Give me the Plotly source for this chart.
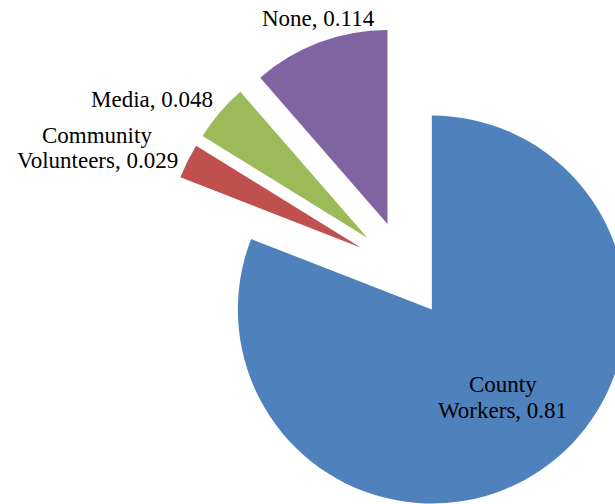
import plotly.graph_objects as go

# ---- data ----
labels = ["County Workers", "Community Volunteers", "Media", "None"]
values = [0.81, 0.029, 0.048, 0.114]
label_lines = [["County", "Workers, 0.81"],
               ["Community", "Volunteers, 0.029"],
               ["Media, 0.048"],
               ["None, 0.114"]]
colors = ["#4F81BD", "#C0504D", "#9BBB59", "#8064A2"]

# ---- layout geometry (pixels) ----
W, H = 647, 512
ML, MT = 162, 27
PW, PH = W - ML, H - MT

def px2paper(x, y):
    return (x - ML) / PW, 1 - (y - MT) / PH

# label line centres (pixel positions in the page)
label_pos = [[(503, 384), (502, 410)],
             [(97, 135), (97, 160)],
             [(152, 99)],
             [(318, 18)]]

fig = go.Figure(go.Pie(
    labels=labels,
    values=values,
    sort=False,
    direction="clockwise",
    rotation=0,
    pull=[0.25, 0.25, 0.25, 0.25],
    marker=dict(colors=colors, line=dict(width=0)),
    textinfo="none",
    hoverinfo="label+value",
    showlegend=False,
))

annotations = []
for lines, poss in zip(label_lines, label_pos):
    for txt, (x, y) in zip(lines, poss):
        xp, yp = px2paper(x, y)
        annotations.append(dict(
            x=xp, y=yp, xref="paper", yref="paper",
            text=txt, showarrow=False,
            xanchor="center", yanchor="middle",
            font=dict(family="Liberation Serif", size=23, color="black"),
        ))

fig.update_layout(
    width=W, height=H,
    margin=dict(l=ML, r=0, t=MT, b=0, autoexpand=False),
    paper_bgcolor="white",
    plot_bgcolor="white",
    annotations=annotations,
)

fig.write_html(
    "out.html",
    post_script="document.documentElement.style.overflow='hidden';document.body.style.overflow='hidden';",
)
